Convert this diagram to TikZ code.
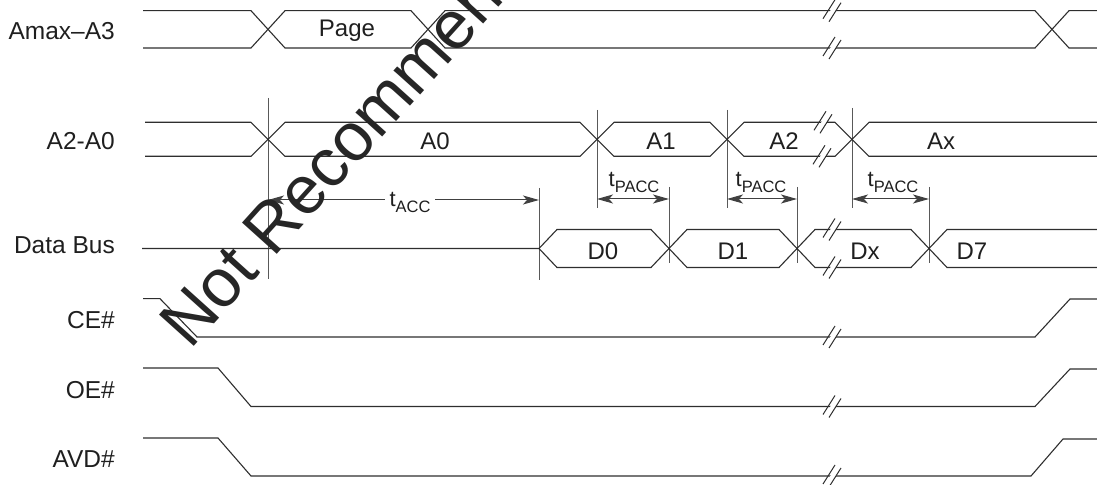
\documentclass[tikz,border=0pt]{standalone}
\usepackage{fontspec}
\setmainfont{Liberation Sans}
\usetikzlibrary{arrows.meta}
\tikzset{
  sig/.style={draw=black!82, line width=1.1bp, line join=miter},
  guide/.style={draw=black!65, line width=1bp},
  lbl/.style={anchor=base east, inner sep=0pt, font=\fontsize{24.5bp}{27bp}\selectfont, text=black!88},
  val/.style={anchor=base, inner sep=0pt, font=\fontsize{24bp}{27bp}\selectfont, text=black!88},
  tlab/.style={anchor=base, inner sep=0pt, text=black!88},
  dim/.style={draw=black!75, line width=1bp, {Stealth[length=16bp,width=9bp,inset=4bp]}-{Stealth[length=16bp,width=9bp,inset=4bp]}},
  pics/brk/.style={code={
    \fill[white] (-7,8.5) -- (4,-9) -- (8,-6.5) -- (-3,11) -- cycle;
    \draw[black!82, line width=1bp] (-9,8) -- (3,-11);
    \draw[black!82, line width=1bp] (-3,11) -- (9,-8);
  }}
}
\newcommand{\tsub}[1]{{\fontsize{22bp}{24bp}\selectfont t}\raisebox{-6bp}{\fontsize{16.5bp}{18bp}\selectfont #1}}
\begin{document}
\begin{tikzpicture}[x=1bp,y=-1bp]
\useasboundingbox (0,0) rectangle (1097,485);
\def\Ta{10.7}\def\Ba{48}
\def\Tb{122.3}\def\Bb{156.3}
\def\Cc{248.5}\def\Tc{229.5}\def\Bc{267.5}
% labels
\node[lbl] (lA) at (115,40) {Amax–A3};
\node[lbl] (lB) at (115,149.5) {A2-A0};
\node[lbl] (lC) at (115,253.3) {Data Bus};
\node[lbl] (lD) at (115,328.3) {CE\#};
\node[lbl] (lE) at (115,398.3) {OE\#};
\node[lbl] (lF) at (115,467.5) {AVD\#};
% guide lines
\draw[guide] (268,98) -- (268,279);
\draw[guide] (597,110) -- (597,208);
\draw[guide] (727,110) -- (727,208);
\draw[guide] (852,108) -- (852,208);
\draw[guide] (539,188) -- (539,280);
\draw[guide] (669,187) -- (669,263);
\draw[guide] (797,187) -- (797,263);
\draw[guide] (929,187) -- (929,263);
% row 1
\draw[sig] (143,\Ta) -- (251,\Ta) -- (285,\Ba) -- (411,\Ba) -- (445,\Ta) -- (1035,\Ta) -- (1069,\Ba) -- (1097,\Ba);
\draw[sig] (143,\Ba) -- (251,\Ba) -- (285,\Ta) -- (411,\Ta) -- (445,\Ba) -- (1035,\Ba) -- (1069,\Ta) -- (1097,\Ta);
\pic at (832,\Ta) {brk};
\pic at (832,\Ba) {brk};
\node[val] (vPage) at (347,36.7) {Page};
% row 2
\draw[sig] (145,\Tb) -- (251,\Tb) -- (285,\Bb) -- (580,\Bb) -- (614,\Tb) -- (710,\Tb) -- (744,\Bb) -- (835,\Bb) -- (869,\Tb) -- (1097,\Tb);
\draw[sig] (145,\Bb) -- (251,\Bb) -- (285,\Tb) -- (580,\Tb) -- (614,\Bb) -- (710,\Bb) -- (744,\Tb) -- (835,\Tb) -- (869,\Bb) -- (1097,\Bb);
\pic at (823,\Tb) {brk};
\pic at (822,\Bb) {brk};
\node[val] (vA0) at (435,149.3) {A0};
\node[val] (vA1) at (661,149.5) {A1};
\node[val] (vA2) at (784,149.5) {A2};
\node[val] (vAx) at (941,149.5) {Ax};
% timing arrows
\coordinate (acL) at (268,200);
\coordinate (acR) at (539,200);
\draw[dim] (acL) -- (acR);
\node[tlab, fill=white, inner xsep=5bp] (tacc) at (410,206.7) {\tsub{ACC}};
\coordinate (p1L) at (597,199); \coordinate (p1R) at (669,199);
\coordinate (p2L) at (727,199); \coordinate (p2R) at (797,199);
\coordinate (p3L) at (852,199); \coordinate (p3R) at (929,199);
\draw[dim] (p1L) -- (p1R);
\draw[dim] (p2L) -- (p2R);
\draw[dim] (p3L) -- (p3R);
\node[tlab] (tp1) at (634,186.7) {\tsub{PACC}};
\node[tlab] (tp2) at (761,186.7) {\tsub{PACC}};
\node[tlab] (tp3) at (893,186.7) {\tsub{PACC}};
% data bus
\draw[sig] (142,\Cc) -- (539,\Cc) -- (557,\Tc) -- (651,\Tc) -- (687,\Bc) -- (779,\Bc) -- (815,\Tc) -- (911,\Tc) -- (947,\Bc) -- (1097,\Bc);
\draw[sig] (539,\Cc) -- (557,\Bc) -- (651,\Bc) -- (687,\Tc) -- (779,\Tc) -- (815,\Bc) -- (911,\Bc) -- (947,\Tc) -- (1097,\Tc);
\pic at (832,\Tc) {brk};
\pic at (832,\Bc) {brk};
\node[val] (vD0) at (603,259.3) {D0};
\node[val] (vD1) at (733,259.3) {D1};
\node[val] (vDx) at (865,259.3) {Dx};
\node[val] (vD7) at (972,259.3) {D7};
% control signals
\draw[sig] (143,298.7) -- (160,298.7) -- (197,337) -- (1035,337) -- (1070,299) -- (1097,299);
\draw[sig] (143,368) -- (218,368) -- (251,406.5) -- (1035,406.5) -- (1070,369) -- (1097,369);
\draw[sig] (143,438) -- (218,438) -- (251,476) -- (1031,476) -- (1063,439) -- (1097,439);
\pic at (832,337) {brk};
\pic at (832,406.5) {brk};
\pic at (832,476) {brk};
% watermark
\node[rotate=48, anchor=base west, inner sep=0pt, font=\fontsize{68bp}{68bp}\selectfont, text=black!85] (wm) at (190,351) {Not Recommended};
\end{tikzpicture}
\end{document}
